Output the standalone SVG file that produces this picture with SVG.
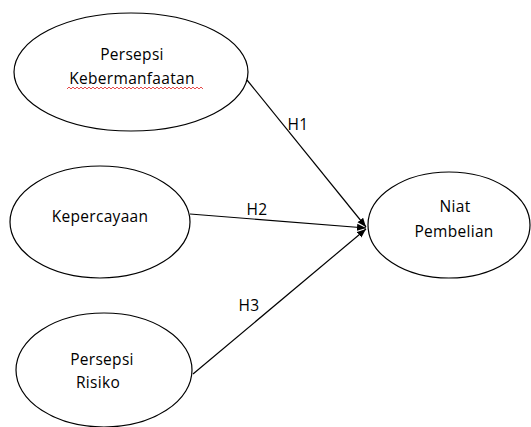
<svg xmlns="http://www.w3.org/2000/svg" width="531" height="427" viewBox="0 0 531 427">
<style>
.node ellipse{fill:#fff;stroke:#000;stroke-width:1.2}
text{font-family:"Open Sans","Liberation Sans",sans-serif;font-size:15.5px;fill:#000;letter-spacing:0.3px}
.lbl{text-anchor:middle}
.conn line{stroke:#000;stroke-width:1.2;marker-end:url(#ah)}
</style>
<defs>
<marker id="ah" viewBox="0 0 10 8" refX="10" refY="4" markerWidth="9" markerHeight="8" markerUnits="userSpaceOnUse" orient="auto">
<path d="M0,0 L10,4 L0,8 Z" fill="#000"/>
</marker>
</defs>
<g class="conn">
<line x1="247" y1="80" x2="366" y2="227"/>
<line x1="190" y1="214" x2="366" y2="228"/>
<line x1="193" y1="374" x2="366" y2="229"/>
<text x="298" y="130" class="lbl">H1</text>
<text x="257" y="215" class="lbl">H2</text>
<text x="249" y="311" class="lbl">H3</text>
</g>
<g id="persepsi-kebermanfaatan" class="node">
<ellipse cx="131" cy="72" rx="117" ry="59"/>
<text x="132" y="60" class="lbl">Persepsi</text>
<text x="132" y="84" class="lbl">Kebermanfaatan</text>
<path d="M67,89 l2,-2 l2,2 l2,-2 l2,2 l2,-2 l2,2 l2,-2 l2,2 l2,-2 l2,2 l2,-2 l2,2 l2,-2 l2,2 l2,-2 l2,2 l2,-2 l2,2 l2,-2 l2,2 l2,-2 l2,2 l2,-2 l2,2 l2,-2 l2,2 l2,-2 l2,2 l2,-2 l2,2 l2,-2 l2,2 l2,-2 l2,2 l2,-2 l2,2 l2,-2 l2,2 l2,-2 l2,2 l2,-2 l2,2 l2,-2 l2,2 l2,-2 l2,2 l2,-2 l2,2 l2,-2 l2,2 l2,-2 l2,2 l2,-2 l2,2 l2,-2 l2,2 l2,-2 l2,2 l2,-2 l2,2 l2,-2 l2,2 l2,-2 l2,2 l2,-2 l2,2 l2,-2 l2,2" fill="none" stroke="#e02020" stroke-width="0.8"/>
</g>
<g id="kepercayaan" class="node">
<ellipse cx="100" cy="222" rx="90" ry="56"/>
<text x="100" y="222" class="lbl">Kepercayaan</text>
</g>
<g id="persepsi-risiko" class="node">
<ellipse cx="104" cy="370" rx="88" ry="57"/>
<text x="102" y="365" class="lbl">Persepsi</text>
<text x="98" y="388" class="lbl">Risiko</text>
</g>
<g id="niat-pembelian" class="node">
<ellipse cx="449" cy="225" rx="81" ry="53"/>
<text x="455" y="212" class="lbl">Niat</text>
<text x="454" y="237" class="lbl">Pembelian</text>
</g>
</svg>
